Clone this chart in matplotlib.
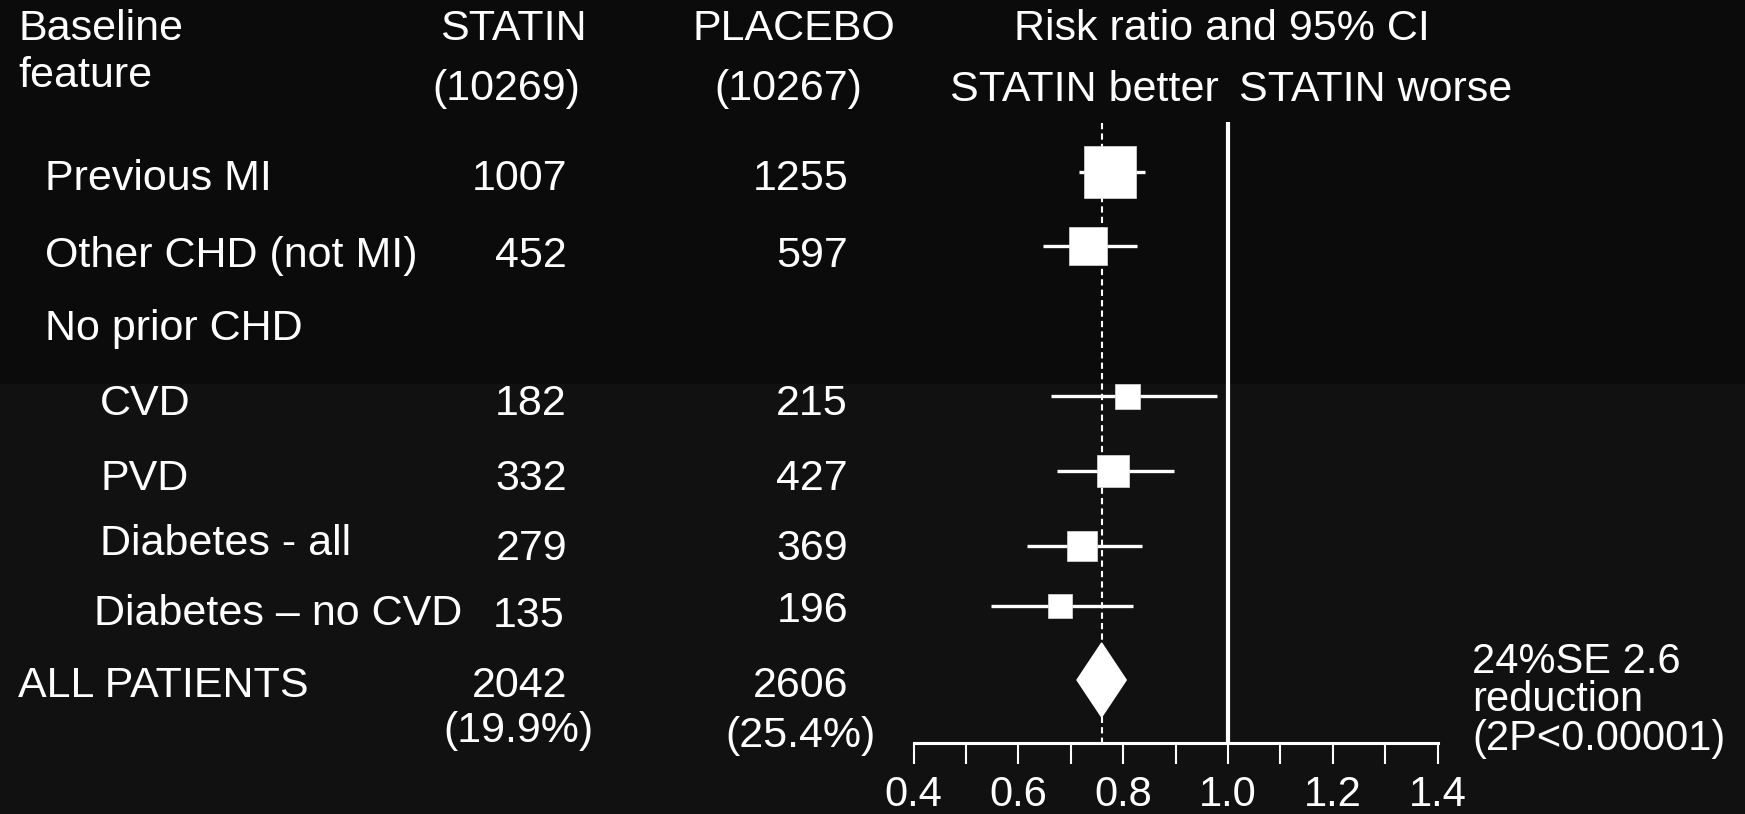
import numpy as np
import matplotlib
matplotlib.use("Agg")
import matplotlib.pyplot as plt
from matplotlib.patches import Rectangle, Polygon

W, H = 1745, 814
plt.rcParams['font.family'] = ['Liberation Sans', 'DejaVu Sans']

# dados
labels = ["Previous MI", "Other CHD (not MI)", "No prior CHD", "CVD", "PVD",
          "Diabetes - all", "Diabetes \u2013 no CVD", "ALL PATIENTS"]
statin_n = ["1007", "452", "", "182", "332", "279", "135", "2042"]
placebo_n = ["1255", "597", "", "215", "427", "369", "196", "2606"]
rr = [0.775, 0.733, np.nan, 0.807, 0.781, 0.722, 0.680]
ci_lo = [0.716, 0.647, np.nan, 0.662, 0.673, 0.617, 0.547]
ci_hi = [0.841, 0.826, np.nan, 0.979, 0.898, 0.837, 0.818]
overall_rr, overall_lo, overall_hi = 0.759, 0.712, 0.806
statin_total, placebo_total = "(10269)", "(10267)"
statin_pct, placebo_pct = "(19.9%)", "(25.4%)"
summary_txt = "24%SE 2.6\nreduction\n(2P<0.00001)"
x_major = [0.4, 0.6, 0.8, 1.0, 1.2, 1.4]
x_minor = [0.5, 0.7, 0.9, 1.1, 1.3]

# layout (pixels from top)
label_x = [45, 45, 45, 100, 100, 100, 94, 18]
text_base = [190, 267, 340, 415, 490, 555, 625, 697]
statin_base = [190, 267, 340, 415, 490, 560, 627, 697]
placebo_base = [190, 267, 340, 415, 490, 560, 622, 697]
statin_right = [567, 567, 567, 567, 567, 567, 564, 567]
mark_y = [172, 246, 0, 396, 471, 546, 606, 680]
box_px = [53, 38, 0, 25, 32, 30, 24.5]
diamond_y, diamond_half = 680, 37

fig = plt.figure(figsize=(W / 100, H / 100), dpi=100)
fig.patch.set_facecolor('#111111')
fig.add_artist(Rectangle((0, 1 - 384 / H), 1, 384 / H, transform=fig.transFigure,
                         facecolor='#0b0b0b', edgecolor='none', zorder=-10))

FS = 31

def txt(x, y, s, ha='left', fs=FS, va='baseline', **kw):
    fig.text(x / W, 1 - y / H, s, ha=ha, va=va, color='white', fontsize=fs, **kw)

# cabeçalhos
txt(18, 40, "Baseline")
txt(18, 87, "feature")
txt(513, 40, "STATIN", ha='center')
txt(506, 100, statin_total, ha='center')
txt(794, 40, "PLACEBO", ha='center')
txt(788, 100, placebo_total, ha='center')
txt(1222, 40, "Risk ratio and 95% CI", ha='center')
txt(1084, 101, "STATIN better", ha='center')
txt(1376, 101, "STATIN worse", ha='center')

for i, lab in enumerate(labels):
    txt(label_x[i], text_base[i], lab)
    if statin_n[i]:
        txt(statin_right[i], statin_base[i], statin_n[i], ha='right')
        txt(848, placebo_base[i], placebo_n[i], ha='right')
txt(518, 742, statin_pct, ha='center')
txt(801, 747, placebo_pct, ha='center')

txt(1472, 642, summary_txt, fs=30, va='top', linespacing=0.95)

# forest
ax = fig.add_axes([913.5 / W, (H - 743) / H, 524 / W, 743 / H])
ax.set_facecolor('none')
ax.set_xlim(0.4, 1.4)
ax.set_ylim(743, 0)
for s in ['left', 'right', 'top']:
    ax.spines[s].set_visible(False)
ax.spines['bottom'].set_color('white')
ax.spines['bottom'].set_linewidth(2.2)
ax.set_yticks([])
ax.set_xticks(x_major)
ax.set_xticklabels([f"{v:.1f}" for v in x_major])
ax.set_xticks(x_minor, minor=True)
ax.tick_params(axis='x', which='both', direction='out', length=15, width=1.5,
               colors='white', labelsize=30, pad=8)

ax.vlines(1.0, 122, 743, color='white', lw=3, clip_on=False)
ax.vlines(overall_rr, 123, 743, color='white', lw=1.5, linestyles=(0, (3, 2)), clip_on=False)

for i in range(len(rr)):
    if np.isnan(rr[i]):
        continue
    ax.hlines(mark_y[i], ci_lo[i], ci_hi[i], color='white', lw=2.4, clip_on=False)
    ax.plot(rr[i], mark_y[i], marker='s', ms=box_px[i] * 0.72, color='white',
            mec='#dddddd', mew=0.5, clip_on=False, zorder=3)

ax.add_patch(Polygon([(overall_lo, diamond_y), (overall_rr, diamond_y - diamond_half),
                      (overall_hi, diamond_y), (overall_rr, diamond_y + diamond_half)],
                     closed=True, facecolor='white', edgecolor='white', zorder=3, clip_on=False))

plt.savefig('out.png', dpi=100, facecolor=fig.get_facecolor())
